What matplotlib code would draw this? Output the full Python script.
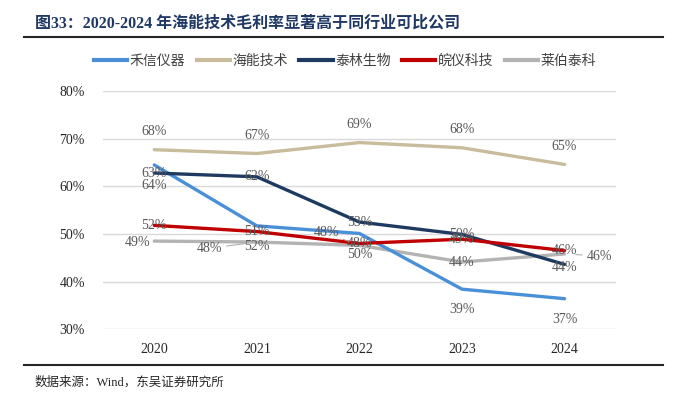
import matplotlib
matplotlib.use("Agg")
import matplotlib.pyplot as plt
from matplotlib.lines import Line2D

plt.rcParams['font.family'] = ['Liberation Serif', 'Noto Sans CJK SC']

years = ['2020', '2021', '2022', '2023', '2024']
names = ['禾信仪器', '海能技术', '泰林生物', '皖仪科技', '莱伯泰科']
hexin = [64.5, 51.7, 50.1, 38.4, 36.4]
haineng = [67.7, 66.9, 69.2, 68.1, 64.6]
tailin = [62.8, 62.0, 52.5, 49.9, 43.6]
wanyi = [51.8, 50.5, 48.0, 48.9, 46.5]
laibo = [48.5, 48.3, 47.6, 44.1, 45.8]
# labels shown in the chart (as printed in the source)
hexin_lbl = ['64%', '52%', '50%', '39%', '37%']
haineng_lbl = ['68%', '67%', '69%', '68%', '65%']
tailin_lbl = ['63%', '62%', '53%', '50%', '44%']
wanyi_lbl = ['52%', '51%', '48%', '49%', '46%']
laibo_lbl = ['49%', '48%', '48%', '44%', '46%']

series = [hexin, haineng, tailin, wanyi, laibo]
labels = [hexin_lbl, haineng_lbl, tailin_lbl, wanyi_lbl, laibo_lbl]
colors = ['#4A90D9', '#C9BC9C', '#1F3A60', '#C00000', '#B3B3B3']
z = [3, 2, 4, 5, 1]

# label offsets in points (styling only)
offsets = [
    [(0, -15)] * 5,
    [(0, 13)] * 5,
    [(0, 0), (0, 0), (0, 0), (0, 0), (0, -2)],
    [(0, 0)] * 5,
    [(-12, -1), (-34, -4.5), (-24, 9), (0, 0), (25, -1.5)],
]
leaders = [[False] * 5] * 4 + [[False, True, True, False, True]]

fig = plt.figure(figsize=(6.82, 3.98), dpi=100)
ax = fig.add_axes([0.151, 0.173, 0.752, 0.598])

x = list(range(len(years)))
for vals, c, zz in zip(series, colors, z):
    ax.plot(x, vals, color=c, lw=2.4, zorder=zz, solid_capstyle='round')

for vals, lbls, offs, lead in zip(series, labels, offsets, leaders):
    for i, (v, t) in enumerate(zip(vals, lbls)):
        kw = {}
        if lead[i]:
            kw['arrowprops'] = dict(arrowstyle='-', color='#A6A6A6', lw=0.7,
                                    shrinkA=1, shrinkB=8)
        ax.annotate(t, (i, v), xytext=offs[i], textcoords='offset points',
                    ha='center', va='center', fontsize=10, color='#595959',
                    zorder=10, **kw)

ax.set_xlim(-0.5, 4.5)
ax.set_ylim(30, 80)
ax.set_yticks(range(30, 81, 10))
ax.set_yticklabels([f'{t}%' for t in range(30, 81, 10)])
ax.set_xticks(x)
ax.set_xticklabels(years)
ax.tick_params(length=0, labelsize=10, labelcolor='#262626')
ax.tick_params(axis='y', pad=13)
ax.tick_params(axis='x', pad=10)
ax.grid(axis='y', color='#D9D9D9', lw=1)
ax.set_axisbelow(True)
for s in ax.spines.values():
    s.set_visible(False)

handles = [Line2D([], [], color=c, lw=3) for c in colors]
fig.legend(handles, names, loc='center', bbox_to_anchor=(0.506, 0.847), ncol=5,
           frameon=False, fontsize=10, handlelength=2.4, handletextpad=0.2,
           columnspacing=0.8, labelcolor='#404040')

fig.text(0.051, 0.942, '图33：2020-2024 年海能技术毛利率显著高于同行业可比公司',
         fontsize=11.5, fontweight='bold', color='#1F3864', va='center')
fig.add_artist(Line2D([0.035, 0.972], [0.907, 0.907], color='#262626', lw=1.5))
fig.add_artist(Line2D([0.035, 0.972], [0.083, 0.083], color='#262626', lw=1.5))
fig.text(0.051, 0.038, '数据来源：Wind，东吴证券研究所', fontsize=9,
         color='#262626', va='center')

fig.savefig('out.png', dpi=100)
